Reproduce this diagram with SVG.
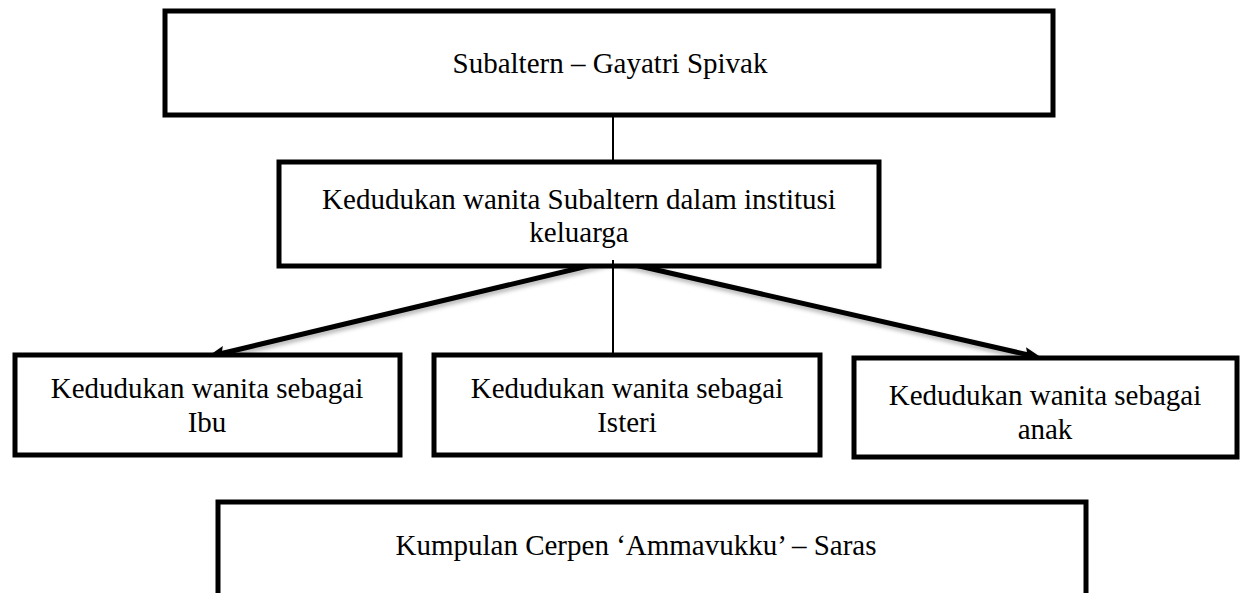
<svg xmlns="http://www.w3.org/2000/svg" width="1240" height="593" viewBox="0 0 1240 593">
<style>
.box{fill:#fff;stroke:#000;stroke-width:5}
.t{font-family:"Liberation Serif","Times New Roman",serif;font-size:29px;fill:#000;text-anchor:middle}
.thin{stroke:#000;stroke-width:2;fill:none}
.arr{stroke:#000;stroke-width:5;fill:none;marker-end:url(#ah);filter:url(#sh)}
</style>
<defs>
<marker id="ah" viewBox="0 -8 18 16" markerWidth="18" markerHeight="16" refX="4" refY="0" markerUnits="userSpaceOnUse" orient="auto">
<path d="M0,-7 L18,0 L0,7 L3,0 z" fill="#000"/>
</marker>
<filter id="sh" x="-10%" y="-50%" width="120%" height="200%">
<feDropShadow dx="1" dy="3" stdDeviation="2" flood-color="#000" flood-opacity="0.3"/>
</filter>
</defs>
<rect width="1240" height="593" fill="#fff"/>
<g id="connectors">
<line class="thin" x1="613" y1="115" x2="613" y2="162"/>
<line class="thin" x1="613" y1="262" x2="613" y2="355"/>
<path class="arr" d="M613,260 L220.6,353.7"/>
<path class="arr" d="M613,260 L1028.4,354.9"/>
</g>
<g id="n-top">
<rect class="box" x="165" y="11" width="888" height="104"/>
<text class="t" x="610" y="73">Subaltern – Gayatri Spivak</text>
</g>
<g id="n-mid">
<rect class="box" x="279" y="162" width="600" height="104"/>
<text class="t" x="579" y="209">Kedudukan wanita Subaltern dalam institusi</text>
<text class="t" x="579" y="242">keluarga</text>
</g>
<line x1="613" y1="260" x2="613" y2="264" stroke="#000" stroke-width="2"/>
<g id="n-ibu">
<rect class="box" x="15" y="355" width="385" height="100"/>
<text class="t" x="207" y="398">Kedudukan wanita sebagai</text>
<text class="t" x="207" y="432">Ibu</text>
</g>
<g id="n-isteri">
<rect class="box" x="434" y="355" width="386" height="100"/>
<text class="t" x="627" y="398">Kedudukan wanita sebagai</text>
<text class="t" x="627" y="432">Isteri</text>
</g>
<g id="n-anak">
<rect class="box" x="854" y="358" width="383" height="99"/>
<text class="t" x="1045" y="405">Kedudukan wanita sebagai</text>
<text class="t" x="1045" y="439">anak</text>
</g>
<g id="n-bottom">
<rect class="box" x="218" y="502" width="868" height="110"/>
<text class="t" x="636" y="555">Kumpulan Cerpen ‘Ammavukku’ – Saras</text>
</g>
</svg>
